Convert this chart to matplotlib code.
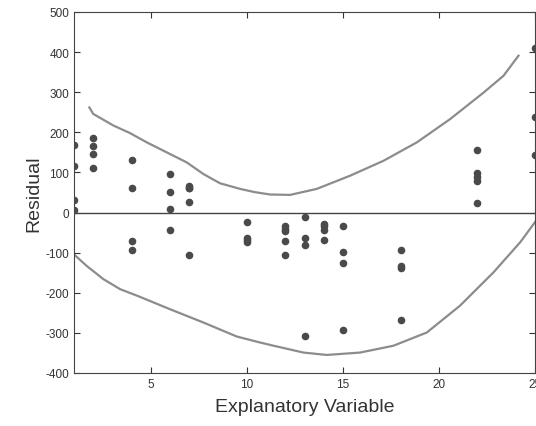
import matplotlib

matplotlib.use("Agg")
import matplotlib.pyplot as plt
import numpy as np

# scatter of residuals
res_x = [1, 1, 1, 1,
         2, 2, 2, 2,
         4, 4, 4, 4,
         6, 6, 6, 6,
         7, 7, 7, 7, 7,
         10, 10, 10, 10,
         12, 12, 12, 12, 12,
         13, 13, 13, 13,
         14, 14, 14, 14,
         15, 15, 15, 15,
         18, 18, 18, 18,
         22, 22, 22, 22, 22,
         25, 25, 25]
res_y = [169, 117, 31, 7,
         187, 167, 147, 110,
         130, 61, -72, -94,
         96, 51, 9, -43,
         65, 60, 27, -106, 62,
         -23, -64, -69, -74,
         -33, -40, -47, -70, -106,
         -10, -64, -81, -309,
         -28, -34, -43, -69,
         -34, -98, -126, -292,
         -94, -133, -137, -268,
         156, 98, 89, 79, 24,
         410, 238, 143]

# upper and lower envelope curves
upper_x = [1.80, 2.0, 3.05, 3.92, 4.79, 5.83, 6.87, 7.74, 8.6, 9.65,
           10.4, 11.21, 12.25, 13.64, 15.38, 17.11, 18.85, 20.58, 22.32,
           23.36, 24.14]
upper_y = [262, 246, 217, 198, 175, 150, 125, 96, 73, 59,
           51, 45, 44, 59, 92, 129, 175, 233, 299,
           341, 391]
lower_x = [0.97, 1.66, 2.53, 3.4, 4.27, 6.0, 7.73, 9.47, 10.69, 11.21,
           12.94, 14.16, 15.9, 17.63, 19.37, 21.1, 22.84, 24.23, 25.06]
lower_y = [-103, -133, -166, -191, -207, -241, -274, -309, -324, -330,
           -349, -355, -349, -332, -299, -232, -149, -74, -20]

plt.rcParams["font.family"] = ["Liberation Sans", "DejaVu Sans"]
plt.rcParams["axes.unicode_minus"] = False

fig = plt.figure(figsize=(5.36, 4.27), dpi=100)
ax = fig.add_axes([74 / 536, 53 / 427, 461 / 536, 361 / 427])

ax.plot(upper_x, upper_y, color="#8c8c8c", lw=1.6, solid_joinstyle="round")
ax.plot(lower_x, lower_y, color="#8c8c8c", lw=1.6, solid_joinstyle="round")
ax.axhline(0, color="#444444", lw=1.0)
ax.scatter(res_x, res_y, s=20, color="#4a4a4a", zorder=3)

ax.set_xlim(1, 25)
ax.set_ylim(-400, 500)
ax.set_xticks([5, 10, 15, 20, 25])
ax.set_yticks(np.arange(-400, 501, 100))
ax.tick_params(direction="in", top=True, right=True, labelsize=8.5,
               colors="#333333", length=4)
for s in ax.spines.values():
    s.set_color("#444444")
ax.set_xlabel("Explanatory Variable", fontsize=14, color="#333333", labelpad=6)
ax.set_ylabel("Residual", fontsize=14, color="#333333", labelpad=2)

fig.savefig("out.png", dpi=100)
